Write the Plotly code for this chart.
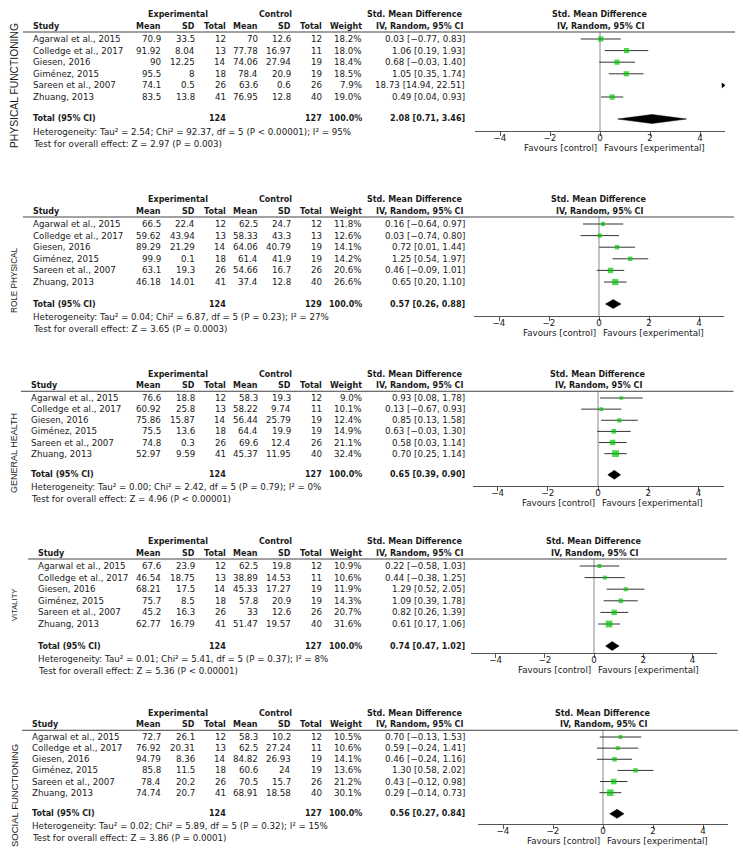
import plotly.graph_objects as go

W, H = 743, 851
FONT = "DejaVu Sans"
LABEL_FONT = "Liberation Sans"

# ---------------- data ----------------
studies = ["Agarwal et al., 2015", "Colledge et al., 2017", "Giesen, 2016",
           "Giménez, 2015", "Sareen et al., 2007", "Zhuang, 2013"]

outcome_names = ["PHYSICAL FUNCTIONING", "ROLE PHYSICAL", "GENERAL HEALTH",
                 "VITALITY", "SOCIAL FUNCTIONING"]

exp_n = [12, 13, 14, 18, 26, 41]
total_weight = [100.0, 100.0, 100.0, 100.0, 100.0]

# Physical functioning
pf_exp_mean = [70.9, 91.92, 90, 95.5, 74.1, 83.5]
pf_exp_sd = [33.5, 8.04, 12.25, 8, 0.5, 13.8]
pf_ctrl_mean = [70, 77.78, 74.06, 78.4, 63.6, 76.95]
pf_ctrl_sd = [12.6, 16.97, 27.94, 20.9, 0.6, 12.8]
pf_ctrl_n = [12, 11, 19, 19, 26, 40]
pf_weight = [18.2, 18.0, 18.4, 18.5, 7.9, 19.0]
pf_smd = [0.03, 1.06, 0.68, 1.05, 18.73, 0.49]
pf_lo = [-0.77, 0.19, -0.03, 0.35, 14.94, 0.04]
pf_hi = [0.83, 1.93, 1.40, 1.74, 22.51, 0.93]
pf_total = [2.08, 0.71, 3.46]
pf_het = "Heterogeneity: Tau² = 2.54; Chi² = 92.37, df = 5 (P &lt; 0.00001); I² = 95%"
pf_test = "Test for overall effect: Z = 2.97 (P = 0.003)"

# Role physical
rp_exp_mean = [66.5, 59.62, 89.29, 99.9, 63.1, 46.18]
rp_exp_sd = [22.4, 43.94, 21.29, 0.1, 19.3, 14.01]
rp_ctrl_mean = [62.5, 58.33, 64.06, 61.4, 54.66, 37.4]
rp_ctrl_sd = [24.7, 43.3, 40.79, 41.9, 16.7, 12.8]
rp_ctrl_n = [12, 13, 19, 19, 26, 40]
rp_weight = [11.8, 12.6, 14.1, 14.2, 20.6, 26.6]
rp_smd = [0.16, 0.03, 0.72, 1.25, 0.46, 0.65]
rp_lo = [-0.64, -0.74, 0.01, 0.54, -0.09, 0.20]
rp_hi = [0.97, 0.80, 1.44, 1.97, 1.01, 1.10]
rp_total = [0.57, 0.26, 0.88]
rp_het = "Heterogeneity: Tau² = 0.04; Chi² = 6.87, df = 5 (P = 0.23); I² = 27%"
rp_test = "Test for overall effect: Z = 3.65 (P = 0.0003)"

# General health
gh_exp_mean = [76.6, 60.92, 75.86, 75.5, 74.8, 52.97]
gh_exp_sd = [18.8, 25.8, 15.87, 13.6, 0.3, 9.59]
gh_ctrl_mean = [58.3, 58.22, 56.44, 64.4, 69.6, 45.37]
gh_ctrl_sd = [19.3, 9.74, 25.79, 19.9, 12.4, 11.95]
gh_ctrl_n = [12, 11, 19, 19, 26, 40]
gh_weight = [9.0, 10.1, 12.4, 14.9, 21.1, 32.4]
gh_smd = [0.93, 0.13, 0.85, 0.63, 0.58, 0.70]
gh_lo = [0.08, -0.67, 0.13, -0.03, 0.03, 0.25]
gh_hi = [1.78, 0.93, 1.58, 1.30, 1.14, 1.14]
gh_total = [0.65, 0.39, 0.90]
gh_het = "Heterogeneity: Tau² = 0.00; Chi² = 2.42, df = 5 (P = 0.79); I² = 0%"
gh_test = "Test for overall effect: Z = 4.96 (P &lt; 0.00001)"

# Vitality
vt_exp_mean = [67.6, 46.54, 68.21, 75.7, 45.2, 62.77]
vt_exp_sd = [23.9, 18.75, 17.5, 8.5, 16.3, 16.79]
vt_ctrl_mean = [62.5, 38.89, 45.33, 57.8, 33, 51.47]
vt_ctrl_sd = [19.8, 14.53, 17.27, 20.9, 12.6, 19.57]
vt_ctrl_n = [12, 11, 19, 19, 26, 40]
vt_weight = [10.9, 10.6, 11.9, 14.3, 20.7, 31.6]
vt_smd = [0.22, 0.44, 1.29, 1.09, 0.82, 0.61]
vt_lo = [-0.58, -0.38, 0.52, 0.39, 0.26, 0.17]
vt_hi = [1.03, 1.25, 2.05, 1.78, 1.39, 1.06]
vt_total = [0.74, 0.47, 1.02]
vt_het = "Heterogeneity: Tau² = 0.01; Chi² = 5.41, df = 5 (P = 0.37); I² = 8%"
vt_test = "Test for overall effect: Z = 5.36 (P &lt; 0.00001)"

# Social functioning
sf_exp_mean = [72.7, 76.92, 94.79, 85.8, 78.4, 74.74]
sf_exp_sd = [26.1, 20.31, 8.36, 11.5, 20.2, 20.7]
sf_ctrl_mean = [58.3, 62.5, 84.82, 60.6, 70.5, 68.91]
sf_ctrl_sd = [10.2, 27.24, 26.93, 24, 15.7, 18.58]
sf_ctrl_n = [12, 11, 19, 19, 26, 40]
sf_weight = [10.5, 10.6, 14.1, 13.6, 21.2, 30.1]
sf_smd = [0.70, 0.59, 0.46, 1.30, 0.43, 0.29]
sf_lo = [-0.13, -0.24, -0.24, 0.58, -0.12, -0.14]
sf_hi = [1.53, 1.41, 1.16, 2.02, 0.98, 0.73]
sf_total = [0.56, 0.27, 0.84]
sf_het = "Heterogeneity: Tau² = 0.02; Chi² = 5.89, df = 5 (P = 0.32); I² = 15%"
sf_test = "Test for overall effect: Z = 3.86 (P = 0.0001)"

tick_vals = [-4, -2, 0, 2, 4]
axis_range = [-5, 5]

outcomes = [
    dict(em=pf_exp_mean, es=pf_exp_sd, cm=pf_ctrl_mean, cs=pf_ctrl_sd, cn=pf_ctrl_n,
         w=pf_weight, smd=pf_smd, lo=pf_lo, hi=pf_hi, tot=pf_total, het=pf_het, test=pf_test),
    dict(em=rp_exp_mean, es=rp_exp_sd, cm=rp_ctrl_mean, cs=rp_ctrl_sd, cn=rp_ctrl_n,
         w=rp_weight, smd=rp_smd, lo=rp_lo, hi=rp_hi, tot=rp_total, het=rp_het, test=rp_test),
    dict(em=gh_exp_mean, es=gh_exp_sd, cm=gh_ctrl_mean, cs=gh_ctrl_sd, cn=gh_ctrl_n,
         w=gh_weight, smd=gh_smd, lo=gh_lo, hi=gh_hi, tot=gh_total, het=gh_het, test=gh_test),
    dict(em=vt_exp_mean, es=vt_exp_sd, cm=vt_ctrl_mean, cs=vt_ctrl_sd, cn=vt_ctrl_n,
         w=vt_weight, smd=vt_smd, lo=vt_lo, hi=vt_hi, tot=vt_total, het=vt_het, test=vt_test),
    dict(em=sf_exp_mean, es=sf_exp_sd, cm=sf_ctrl_mean, cs=sf_ctrl_sd, cn=sf_ctrl_n,
         w=sf_weight, smd=sf_smd, lo=sf_lo, hi=sf_hi, tot=sf_total, het=sf_het, test=sf_test),
]

# ---------------- layout parameters (pixels) ----------------
panel_top = [14, 199, 374, 541, 713]
panel_vscale = [1.0, 1.0, 0.96, 1.0, 0.96]
panel_axis_y = [131, 316, 486, 653, 824]
panel_zero_x = [600, 599, 598, 594, 603]
panel_unit = [25, 25, 25.1, 24.6, 25]
panel_study_x = [32, 32, 30, 37, 31]
label_center_y = [86, 280, 453, 605, 796]
label_size = [10.3, 8.2, 9.0, 7.6, 9.5]

COL_MEAN_E, COL_SD_E, COL_N_E = 162, 196, 227
COL_MEAN_C, COL_SD_C, COL_N_C = 259, 292, 323
COL_W, COL_SMD = 363, 466

REG, BOLD = 8.7, 8.0
TXT = "#1a1a1a"
GREEN = "#00c800"


def fx(px):
    return px / W


def fy(py):
    return 1 - py / H


annotations = []
shapes = []


def txt(x, y, s, anchor="left", bold=False, size=None, family=FONT, angle=0):
    if bold:
        s = "<b>" + s + "</b>"
    annotations.append(dict(
        x=fx(x), y=fy(y), xref="paper", yref="paper", text=s, showarrow=False,
        xanchor=anchor, yanchor="middle", borderpad=0, textangle=angle,
        font=dict(family=family, size=size or (BOLD if bold else REG), color=TXT)))


def num(v):
    return f"{v:g}"


def ci(e, l, h):
    return f"{e:.2f} [{l:.2f}, {h:.2f}]".replace("-", "−")


fig = go.Figure()
layout_axes = {}

for k, oc in enumerate(outcomes):
    T = panel_top[k]
    s = panel_vscale[k]
    ay = panel_axis_y[k]
    z = panel_zero_x[k]
    u = panel_unit[k]
    sx = panel_study_x[k]
    xname = "x" if k == 0 else f"x{k + 1}"
    axname = "xaxis" if k == 0 else f"xaxis{k + 1}"

    def Y(off):
        return T + s * off

    # headers
    txt(178, Y(0), "Experimental", "center", bold=True)
    txt(275, Y(0), "Control", "center", bold=True)
    txt(COL_SMD - 2, Y(0), "Std. Mean Difference", "right", bold=True)
    txt(z, Y(0), "Std. Mean Difference", "center", bold=True)
    txt(sx, Y(12), "Study", "left", bold=True)
    for col, h in [(COL_MEAN_E, "Mean"), (COL_SD_E, "SD"), (COL_N_E, "Total"),
                   (COL_MEAN_C, "Mean"), (COL_SD_C, "SD"), (COL_N_C, "Total"),
                   (COL_W, "Weight")]:
        txt(col, Y(12), h, "right", bold=True)
    txt(COL_SMD - 2, Y(12), "IV, Random, 95% CI", "right", bold=True)
    txt(z, Y(12), "IV, Random, 95% CI", "center", bold=True)

    # header rule
    shapes.append(dict(type="line", xref="paper", yref="paper",
                       x0=fx(sx - 9), x1=fx(z + 5.4 * u), y0=fy(Y(18)), y1=fy(Y(18)),
                       line=dict(color="#444", width=1)))

    row_y = [Y(25 + 11.6 * i) for i in range(len(studies))]
    for i, st in enumerate(studies):
        y = row_y[i]
        txt(sx, y, st, "left")
        txt(COL_MEAN_E, y, num(oc["em"][i]), "right")
        txt(COL_SD_E, y, num(oc["es"][i]), "right")
        txt(COL_N_E, y, str(exp_n[i]), "right")
        txt(COL_MEAN_C, y, num(oc["cm"][i]), "right")
        txt(COL_SD_C, y, num(oc["cs"][i]), "right")
        txt(COL_N_C, y, str(oc["cn"][i]), "right")
        txt(COL_W, y, f"{oc['w'][i]:.1f}%", "right")
        txt(COL_SMD, y, ci(oc["smd"][i], oc["lo"][i], oc["hi"][i]), "right")

    ty = Y(105)
    txt(sx, ty, "Total (95% CI)", "left", bold=True)
    txt(COL_N_E, ty, str(sum(exp_n)), "right", bold=True)
    txt(COL_N_C, ty, str(sum(oc["cn"])), "right", bold=True)
    txt(COL_W, ty, f"{total_weight[k]:.1f}%", "right", bold=True)
    txt(COL_SMD, ty, ci(*oc["tot"]), "right", bold=True)
    txt(sx, Y(118), oc["het"], "left")
    txt(sx, Y(130), oc["test"], "left")

    # favours
    txt(z - 2, ay + 17, "Favours [control]", "right")
    txt(z + 3, ay + 17, "Favours [experimental]", "left")

    # outcome label
    txt(14, label_center_y[k], outcome_names[k], "center", size=label_size[k],
        family=LABEL_FONT, angle=-90)

    # ---- forest plot ----
    layout_axes[axname] = dict(
        domain=[fx(z + axis_range[0] * u), fx(z + axis_range[1] * u)],
        range=axis_range, anchor="free", position=fy(ay),
        showline=True, linecolor="#555", linewidth=1,
        ticks="outside", ticklen=4, tickcolor="#555", tickwidth=1,
        ticklabelstandoff=-5,
        tickvals=tick_vals, tickfont=dict(family=FONT, size=REG, color=TXT),
        showgrid=False, zeroline=False, fixedrange=True)

    # zero line
    fig.add_trace(go.Scatter(x=[0, 0], y=[Y(18), ay], mode="lines",
                             line=dict(color="#8a8a8a", width=1),
                             xaxis=xname, yaxis="y", hoverinfo="skip", showlegend=False))
    # CI lines
    cx, cy = [], []
    for i in range(len(studies)):
        cx += [oc["lo"][i], oc["hi"][i], None]
        cy += [row_y[i], row_y[i], None]
    fig.add_trace(go.Scatter(x=cx, y=cy, mode="lines", line=dict(color="#333", width=1),
                             xaxis=xname, yaxis="y", hoverinfo="skip", showlegend=False))
    # squares
    fig.add_trace(go.Scatter(x=oc["smd"], y=row_y, mode="markers",
                             marker=dict(symbol="square", color=GREEN,
                                         size=[1.2 * w ** 0.5 for w in oc["w"]],
                                         line=dict(width=0)),
                             xaxis=xname, yaxis="y", hoverinfo="skip", showlegend=False))
    # off-scale arrows
    ox = [axis_range[1] - 0.08 for i in range(len(studies)) if oc["lo"][i] > axis_range[1]]
    oy = [row_y[i] for i in range(len(studies)) if oc["lo"][i] > axis_range[1]]
    if ox:
        fig.add_trace(go.Scatter(x=ox, y=oy, mode="markers",
                                 marker=dict(symbol="triangle-right", color="black", size=5),
                                 xaxis=xname, yaxis="y", hoverinfo="skip", showlegend=False))
    # diamond
    e, l, h = oc["tot"]
    fig.add_trace(go.Scatter(x=[l, e, h, e, l], y=[ty, ty - 4.5, ty, ty + 4.5, ty],
                             mode="lines", fill="toself", fillcolor="black",
                             line=dict(color="black", width=0.5),
                             xaxis=xname, yaxis="y", hoverinfo="skip", showlegend=False))

fig.update_layout(
    width=W, height=H, autosize=False,
    margin=dict(l=0, r=0, t=0, b=0),
    paper_bgcolor="white", plot_bgcolor="rgba(0,0,0,0)",
    showlegend=False,
    yaxis=dict(domain=[0, 1], range=[H, 0], visible=False, fixedrange=True),
    annotations=annotations, shapes=shapes,
    **layout_axes,
)

fig.write_html("out.html", config={"displayModeBar": False},
               post_script="document.body.style.margin='0';document.body.style.overflow='hidden';")
